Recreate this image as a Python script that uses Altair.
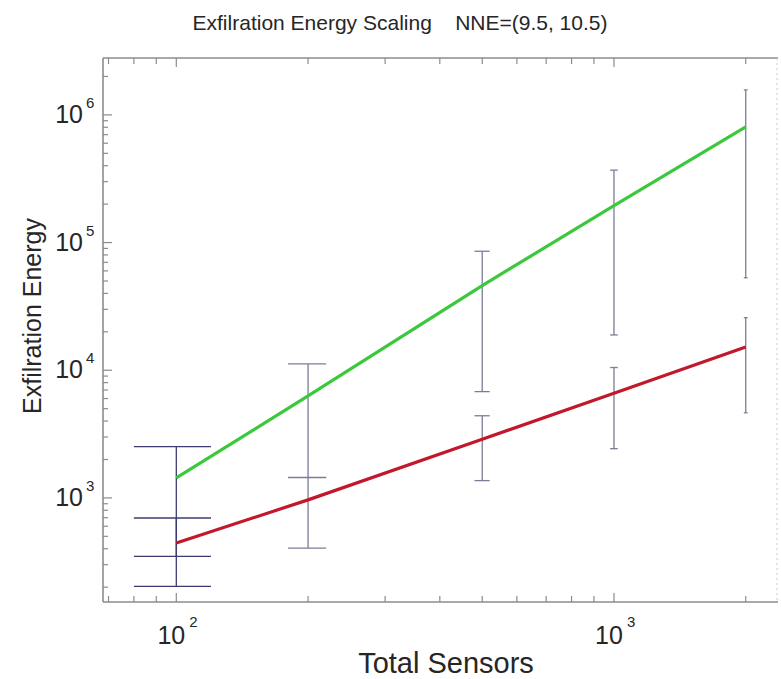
import altair as alt
import pandas as pd

# ---------------- data ----------------
sensors = [100, 200, 500, 1000, 2000]

green_energy = [1435, 6300, 46000, 195000, 805000]
green_low = [349, 1440, 6800, 18900, 53000]
green_high = [2520, 11200, 85500, 369000, 1570000]

red_energy = [443, 965, 2880, 6600, 15200]
red_low = [203, 404, 1366, 2430, 4640]
red_high = [696, 1450, 4400, 10500, 25800]

x_major = [100, 1000]
x_exponents = ["2", "3"]
y_major = [1e3, 1e4, 1e5, 1e6]
y_exponents = ["3", "4", "5", "6"]

title_text = "Exfilration Energy Scaling\u00a0\u00a0\u00a0\u00a0NNE=(9.5, 10.5)"
x_title = "Total Sensors"
y_title = "Exfilration Energy"

# ---------------- layout / style ----------------
X_DOMAIN = [68, 2370]
Y_DOMAIN = [153, 2.79e6]
W, H = 675, 544
FONT = "Liberation Sans"
CAP = 20  # half width of error-bar caps in sensor units
AXIS_COLOR = "#8c8c8c"
TEXT_COLOR = "#262626"

x_minor = [m * 10 ** e for e in range(1, 4) for m in range(2, 10)
           if X_DOMAIN[0] <= m * 10 ** e <= X_DOMAIN[1]]
y_minor = [m * 10 ** e for e in range(2, 7) for m in range(2, 10)
           if Y_DOMAIN[0] <= m * 10 ** e <= Y_DOMAIN[1]]

xs = alt.Scale(type="log", domain=X_DOMAIN, nice=False)
ys = alt.Scale(type="log", domain=Y_DOMAIN, nice=False)

rows = []
for name, en, lo, hi in [("green", green_energy, green_low, green_high),
                         ("red", red_energy, red_low, red_high)]:
    for s, e, l, h in zip(sensors, en, lo, hi):
        rows.append({"series": name, "sensors": s, "energy": e, "low": l, "high": h})
df = pd.DataFrame(rows)

X = alt.X("sensors:Q", scale=xs, axis=None)

bar_color = alt.condition(alt.datum.sensors < 150, alt.value("#3b3b72"), alt.value("#7c7c98"))

base = alt.Chart(df)

err_v = base.mark_rule(strokeWidth=1.3).encode(
    x=X, y=alt.Y("low:Q", scale=ys, axis=None), y2="high:Q", color=bar_color)

caps = base.transform_calculate(
    xl=f"datum.sensors - {CAP}", xr=f"datum.sensors + {CAP}")
cap_low = caps.mark_rule(strokeWidth=1.3).encode(
    x=alt.X("xl:Q", scale=xs, axis=None), x2="xr:Q",
    y=alt.Y("low:Q", scale=ys, axis=None), color=bar_color)
cap_high = caps.mark_rule(strokeWidth=1.3).encode(
    x=alt.X("xl:Q", scale=xs, axis=None), x2="xr:Q",
    y=alt.Y("high:Q", scale=ys, axis=None), color=bar_color)

lines = base.mark_line(strokeWidth=3.2, strokeCap="butt").encode(
    x=X, y=alt.Y("energy:Q", scale=ys, axis=None),
    color=alt.Color("series:N", scale=alt.Scale(domain=["green", "red"],
                                                range=["#3cc83c", "#c2182c"]),
                    legend=None),
    detail="series:N")

# ---------------- frame ----------------
one = pd.DataFrame({"k": [0]})
fr = alt.Chart(one)
frame_left = fr.mark_rule(color=AXIS_COLOR, strokeWidth=1.6).encode(
    x=alt.value(0), y=alt.value(0), y2=alt.value(H))
frame_bottom = fr.mark_rule(color=AXIS_COLOR, strokeWidth=1.6).encode(
    x=alt.value(0), x2=alt.value(W), y=alt.value(H))
frame_top = fr.mark_rule(color=AXIS_COLOR, strokeWidth=1.4).encode(
    x=alt.value(0), x2=alt.value(W), y=alt.value(0))
frame_right = fr.mark_rule(color="#c8c8c8", strokeWidth=1, strokeDash=[2, 3]).encode(
    x=alt.value(W - 1), y=alt.value(0), y2=alt.value(H))

# ---------------- ticks ----------------
xmaj_df = pd.DataFrame({"v": x_major, "e": x_exponents})
xmin_df = pd.DataFrame({"v": x_minor})
ymaj_df = pd.DataFrame({"v": y_major, "e": y_exponents})
ymin_df = pd.DataFrame({"v": y_minor})

XV = alt.X("v:Q", scale=xs, axis=None)
YV = alt.Y("v:Q", scale=ys, axis=None)

tick_layers = []
for d, ln in [(xmaj_df, 9), (xmin_df, 6)]:
    tick_layers.append(alt.Chart(d).mark_rule(color=AXIS_COLOR, strokeWidth=1.2).encode(
        x=XV, y=alt.value(H), y2=alt.value(H - ln)))
    tick_layers.append(alt.Chart(d).mark_rule(color=AXIS_COLOR, strokeWidth=1.2).encode(
        x=XV, y=alt.value(0), y2=alt.value(ln)))
for d, ln in [(ymaj_df, 9), (ymin_df, 5)]:
    tick_layers.append(alt.Chart(d).mark_rule(color=AXIS_COLOR, strokeWidth=1.2).encode(
        y=YV, x=alt.value(0), x2=alt.value(ln)))

# ---------------- tick labels ----------------
ylab_base = alt.Chart(ymaj_df).mark_text(
    align="right", baseline="middle", font=FONT, fontSize=25, color=TEXT_COLOR
).encode(y=YV, x=alt.value(-20), text=alt.value("10"))
ylab_exp = alt.Chart(ymaj_df).mark_text(
    align="left", baseline="middle", font=FONT, fontSize=15, color=TEXT_COLOR, dy=-12
).encode(y=YV, x=alt.value(-17), text="e:N")

xlab_base = alt.Chart(xmaj_df).mark_text(
    align="center", baseline="middle", font=FONT, fontSize=25, color=TEXT_COLOR, dx=-5
).encode(x=XV, y=alt.value(H + 34), text=alt.value("10"))
xlab_exp = alt.Chart(xmaj_df).mark_text(
    align="left", baseline="middle", font=FONT, fontSize=15, color=TEXT_COLOR, dx=13
).encode(x=XV, y=alt.value(H + 20), text="e:N")

# ---------------- titles ----------------
title_df = pd.DataFrame({"t": [title_text]})
title = alt.Chart(title_df).mark_text(
    align="center", baseline="middle", font=FONT, fontSize=21, color=TEXT_COLOR
).encode(x=alt.value(297), y=alt.value(-34), text="t:N")

xt_df = pd.DataFrame({"t": [x_title]})
xtitle = alt.Chart(xt_df).mark_text(
    align="center", baseline="middle", font=FONT, fontSize=29, color=TEXT_COLOR
).encode(x=alt.value(343), y=alt.value(H + 62), text="t:N")

yt_df = pd.DataFrame({"t": [y_title]})
ytitle = alt.Chart(yt_df).mark_text(
    align="center", baseline="middle", font=FONT, fontSize=25, color=TEXT_COLOR, angle=270
).encode(x=alt.value(-70), y=alt.value(258), text="t:N")

chart = alt.layer(
    frame_left, frame_bottom, frame_top, frame_right,
    *tick_layers,
    err_v, cap_low, cap_high, lines,
    ylab_base, ylab_exp, xlab_base, xlab_exp,
    title, xtitle, ytitle,
).properties(
    width=W, height=H,
    autosize=alt.AutoSizeParams(type="none"),
    padding={"left": 103, "top": 58, "right": 3, "bottom": 77},
    background="white",
).configure_view(stroke=None)

chart.save("out.html", embed_options={"renderer": "svg", "actions": False})
